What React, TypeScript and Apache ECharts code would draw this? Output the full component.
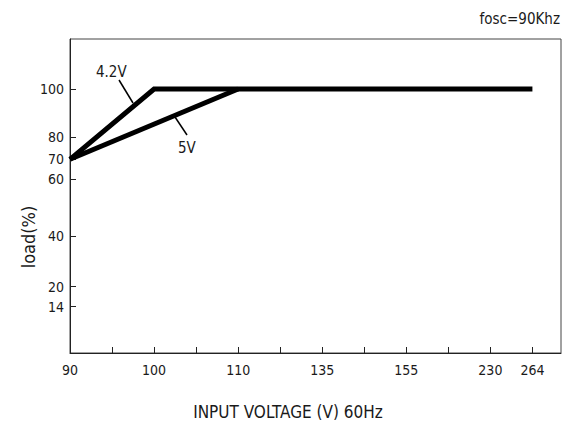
import React, { useEffect, useRef } from "react";
import * as echarts from "echarts";

// X axis: tick label texts and their slot index on the (irregular) voltage axis
const xLabels = ["90", "100", "110", "135", "155", "230", "264"];
const xSlots = [0, 2, 4, 6, 8, 10, 11];

// Y axis: irregular load scale (label value -> axis unit)
const yLabels = [100, 80, 70, 60, 40, 20, 14];
const yUnits = [264, 215.7, 193.7, 174, 117, 66.3, 46.3];

// Series data
const v42Volt = ["90", "100", "264"];
const v42Load = [70, 100, 100];
const v5Volt = ["90", "110"];
const v5Load = [70, 100];

const FONT = "'Liberation Sans Narrow', 'DejaVu Sans Condensed', 'Roboto Condensed', sans-serif";

const xOf = (v: string) => xSlots[xLabels.indexOf(v)];
const yOf = (l: number) => {
  const i = yLabels.indexOf(l);
  if (i >= 0) return yUnits[i];
  for (let k = 0; k < yLabels.length - 1; k++) {
    const a = yLabels[k], b = yLabels[k + 1];
    if (l <= a && l >= b) return yUnits[k + 1] + ((l - b) / (a - b)) * (yUnits[k] - yUnits[k + 1]);
  }
  return 0;
};

export default function App() {
  const ref = useRef<HTMLDivElement>(null);
  useEffect(() => {
    if (!ref.current) return;
    document.body.style.margin = "0";
    const chart = echarts.init(ref.current, null, { renderer: "svg" });
    const textColor = "#1a1a1a";
    chart.setOption({
      animation: false,
      backgroundColor: "#ffffff",
      grid: { left: 70, right: 5, top: 39, bottom: 77, show: true, borderColor: "#444", borderWidth: 1 },
      xAxis: {
        type: "value",
        min: 0,
        max: 11.68,
        interval: 1,
        splitLine: { show: false },
        axisLine: { lineStyle: { color: "#222", width: 1 } },
        axisTick: { inside: true, length: 6, lineStyle: { color: "#222" } },
        axisLabel: {
          color: textColor,
          fontFamily: FONT,
          fontSize: 14,
          margin: 10,
          showMaxLabel: false,
          formatter: (v: number) => {
            const i = xSlots.findIndex((s) => Math.abs(s - v) < 1e-6);
            return i >= 0 ? xLabels[i] : "";
          },
        },
      },
      yAxis: {
        type: "value",
        min: 0,
        max: 314,
        splitLine: { show: false },
        axisLine: { show: true, lineStyle: { color: "#222", width: 1 } },
        axisTick: { show: true, inside: true, length: 6, customValues: yUnits, lineStyle: { color: "#222" } },
        axisLabel: {
          color: textColor,
          fontFamily: FONT,
          fontSize: 14,
          margin: 6,
          customValues: yUnits,
          formatter: (v: number) => {
            const i = yUnits.findIndex((u) => Math.abs(u - v) < 0.01);
            return i >= 0 ? String(yLabels[i]) : "";
          },
        },
      },
      series: [
        {
          name: "4.2V",
          type: "line",
          symbol: "none",
          lineStyle: { color: "#000", width: 5, join: "miter" },
          data: v42Volt.map((v, i) => [xOf(v), yOf(v42Load[i])]),
        },
        {
          name: "5V",
          type: "line",
          symbol: "none",
          lineStyle: { color: "#000", width: 5, join: "miter" },
          data: v5Volt.map((v, i) => [xOf(v), yOf(v5Load[i])]),
        },
      ],
      graphic: [
        { type: "text", right: 6, top: 11, style: { text: "fosc=90Khz", font: `15px ${FONT}`, fill: textColor } },
        { type: "text", x: 96, y: 64, style: { text: "4.2V", font: `15px ${FONT}`, fill: textColor } },
        { type: "line", shape: { x1: 119, y1: 80, x2: 133, y2: 103 }, style: { stroke: "#000", lineWidth: 1.5 } },
        { type: "text", x: 178, y: 140, style: { text: "5V", font: `15px ${FONT}`, fill: textColor } },
        { type: "line", shape: { x1: 175, y1: 117, x2: 187, y2: 135 }, style: { stroke: "#000", lineWidth: 1.5 } },
        {
          type: "text",
          x: 288,
          y: 412,
          style: { text: "INPUT VOLTAGE (V) 60Hz", font: `17px ${FONT}`, fill: textColor, align: "center", verticalAlign: "middle" },
        },
        {
          type: "text",
          x: 28,
          y: 237,
          rotation: Math.PI / 2,
          style: { text: "load(%)", font: `18px ${FONT}`, fill: textColor, align: "center", verticalAlign: "middle" },
        },
      ],
    });
    return () => chart.dispose();
  }, []);
  return <div ref={ref} style={{ width: 566, height: 430 }} />;
}
